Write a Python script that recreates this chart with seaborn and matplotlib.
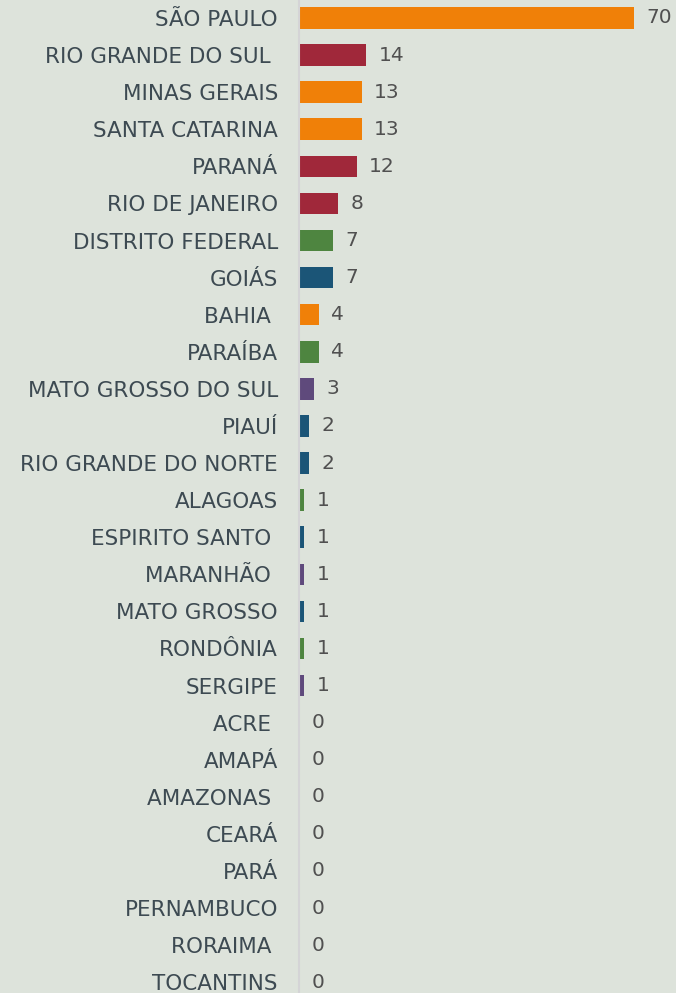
import matplotlib
matplotlib.use("Agg")
import matplotlib.pyplot as plt
import seaborn as sns
import pandas as pd

states = ["SÃO PAULO", "RIO GRANDE DO SUL ", "MINAS GERAIS", "SANTA CATARINA", "PARANÁ",
          "RIO DE JANEIRO", "DISTRITO FEDERAL", "GOIÁS", "BAHIA ", "PARAÍBA",
          "MATO GROSSO DO SUL", "PIAUÍ", "RIO GRANDE DO NORTE", "ALAGOAS", "ESPIRITO SANTO ",
          "MARANHÃO ", "MATO GROSSO", "RONDÔNIA", "SERGIPE", "ACRE ", "AMAPÁ", "AMAZONAS ",
          "CEARÁ", "PARÁ", "PERNAMBUCO", "RORAIMA ", "TOCANTINS"]
values = [70, 14, 13, 13, 12, 8, 7, 7, 4, 4, 3, 2, 2, 1, 1, 1, 1, 1, 1, 0, 0, 0, 0, 0, 0, 0, 0]
bar_colors = ["#F08008", "#A0283A", "#F08008", "#F08008", "#A0283A", "#A0283A", "#4E8540",
              "#1B5577", "#F08008", "#4E8540", "#5F4A7C", "#1B5577", "#1B5577", "#4E8540",
              "#1B5577", "#5F4A7C", "#1B5577", "#4E8540", "#5F4A7C", "#4E8540", "#4E8540",
              "#4E8540", "#4E8540", "#4E8540", "#4E8540", "#4E8540", "#4E8540"]

df = pd.DataFrame({"state": states, "value": values})
bg = "#DDE3DB"

sns.set_theme(style="white")
plt.rcParams["font.family"] = ["DejaVu Sans"]

fig = plt.figure(figsize=(6.76, 9.93), dpi=100, facecolor=bg)
ax = fig.add_axes([299.5 / 676, 0, 376.5 / 676, 1])
ax.set_facecolor(bg)

sns.barplot(data=df, x="value", y="state", hue="state", palette=bar_colors,
            legend=False, width=0.58, ax=ax, saturation=1, linewidth=0)

for c in ax.containers:
    ax.bar_label(c, padding=9, fontsize=14.5, color="#505050")

ax.set_xlim(0, 78.9)
ax.set_ylim(26.29, -0.485)
ax.set_xlabel("")
ax.set_ylabel("")
ax.set_xticks([])
for s in ["top", "right", "bottom"]:
    ax.spines[s].set_visible(False)
ax.spines["left"].set_color("#D4D4D6")
ax.spines["left"].set_linewidth(1.5)
ax.spines["left"].set_position(("outward", 0.5))
ax.tick_params(axis="y", length=0, pad=15, labelsize=15.5, labelcolor="#3D4A52")

fig.savefig("out.png", dpi=100, facecolor=bg)
